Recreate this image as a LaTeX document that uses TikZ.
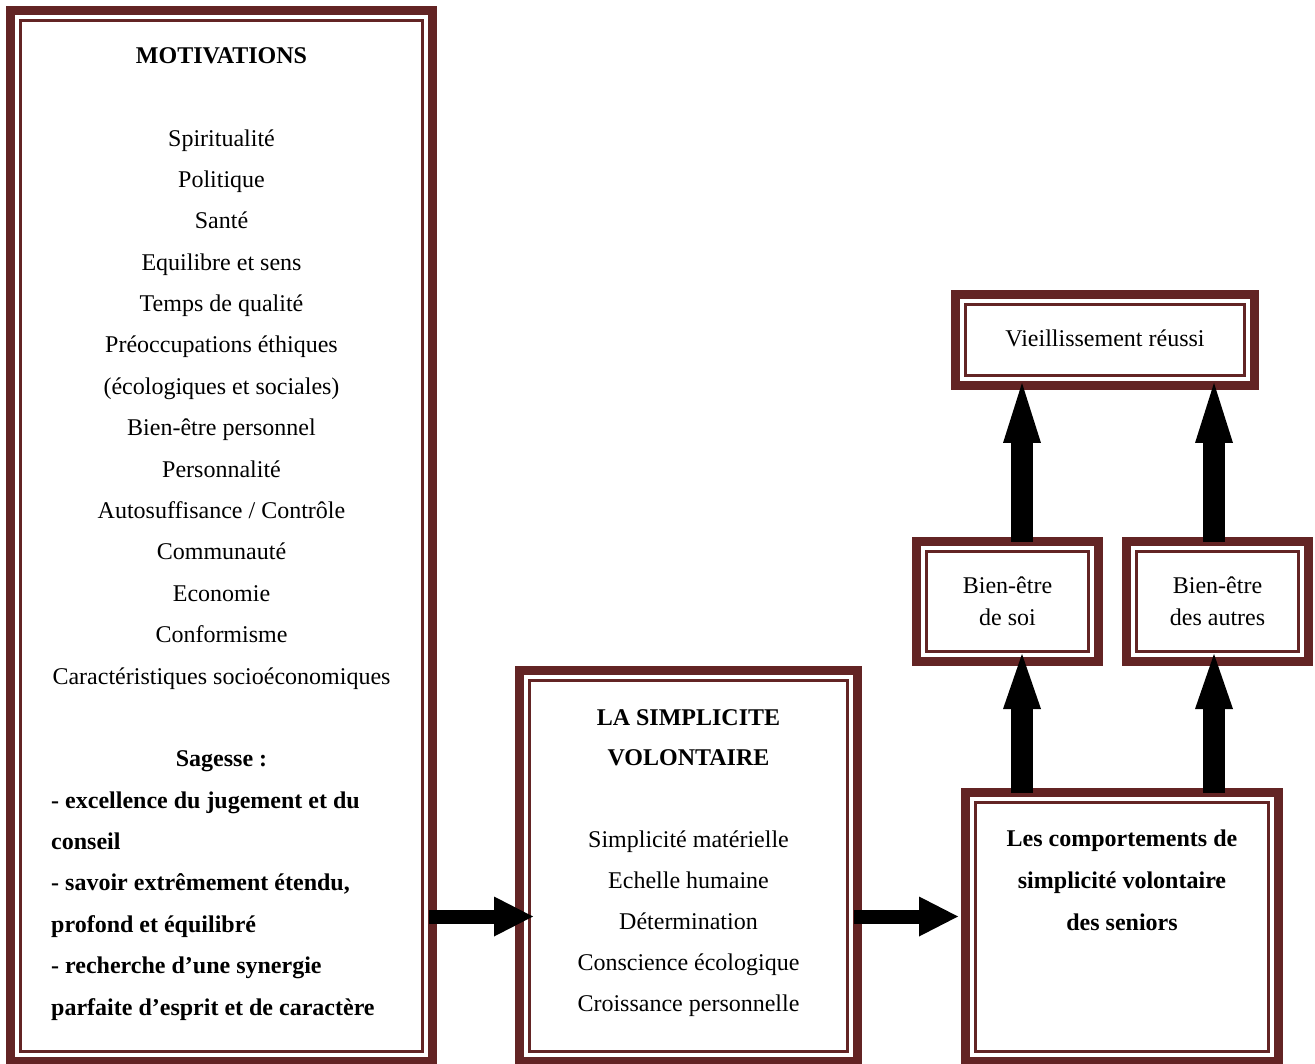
\documentclass[tikz,border=0pt]{standalone}
\usepackage{fontspec}
\setmainfont{Liberation Serif}
\usetikzlibrary{arrows.meta,calc}
\definecolor{framecol}{RGB}{99,36,36}
\newcommand\dblbox[5]{%
  \node[outerbox,minimum width={#4-#2-9},minimum height={#5-#3-9}] (#1) at ({(#2+#4)/2},{(#3+#5)/2}) {};
  \draw[innerline] ($(#1.north west)+(10,10)$) rectangle ($(#1.south east)+(-10,-10)$);
}
\begin{document}
\begin{tikzpicture}[x=1pt,y=-1pt,
  outerbox/.style={draw=framecol,line width=9pt,rectangle,inner sep=0pt,outer sep=0pt,fill=white},
  innerline/.style={draw=framecol,line width=2.8pt},
  txt/.style={inner sep=0pt,anchor=base,font=\fontsize{24}{29}\selectfont},
  btxt/.style={inner sep=0pt,anchor=base,font=\fontsize{24}{29}\selectfont\bfseries},
  harrow/.style={draw=black,line width=14pt,-{Triangle[width=40pt,length=39pt,line width=0pt]}},
  varrow/.style={draw=black,line width=22pt,-{Triangle[width=38pt,length=#1,line width=0pt]}}]
\useasboundingbox (0,0) rectangle (1315,1064);
\clip (0,0) rectangle (1315,1064);
\fill[white] (0,0) rectangle (1315,1064);

% boxes
\dblbox{b1}{6}{6}{437}{1066}
\dblbox{b2}{515}{666}{862}{1066}
\dblbox{b3}{961}{788}{1283}{1066}
\dblbox{bs}{912}{537}{1103}{666}
\dblbox{ba}{1122}{537}{1313}{666}
\dblbox{bv}{951}{290}{1259}{390}

% box 1 text
\node[btxt] (mt) at (221.5,63.3) {MOTIVATIONS};
\foreach \t [count=\i from 2] in {Spiritualité,Politique,Santé,Equilibre et sens,Temps de qualité,Préoccupations éthiques,(écologiques et sociales),Bien-être personnel,Personnalité,Autosuffisance / Contrôle,Communauté,Economie,Conformisme,Caractéristiques socioéconomiques}
  \node[txt] (m\i) at (221.5,{63.3+\i*41.38}) {\t};
\node[btxt] (sg) at (221.5,{63.3+17*41.38}) {Sagesse :};
\foreach \t [count=\i from 18] in {- excellence du jugement et du,conseil,{- savoir extrêmement étendu,},profond et équilibré,- recherche d’une synergie,parfaite d’esprit et de caractère}
  \node[btxt,anchor=base west] (s\i) at (51,{63.3+\i*41.38}) {\t};

% box 2 text
\node[btxt] (t1) at (688.5,725) {LA SIMPLICITE};
\node[btxt] (t2) at (688.5,765.8) {VOLONTAIRE};
\foreach \t [count=\i from 0] in {Simplicité matérielle,Echelle humaine,Détermination,Conscience écologique,Croissance personnelle}
  \node[txt] (p\i) at (688.5,{847+\i*41}) {\t};

% box 3 text
\node[btxt] (c1t) at (1122,846) {Les comportements de};
\node[btxt] (c2t) at (1122,888) {simplicité volontaire};
\node[btxt] (c3t) at (1122,930) {des seniors};

% small boxes text
\node[txt] (bs1) at (1007.5,593) {Bien-être};
\node[txt] (bs2) at (1007.5,625) {de soi};
\node[txt] (ba1) at (1217.5,593) {Bien-être};
\node[txt] (ba2) at (1217.5,625) {des autres};
\node[txt] (bv1) at (1105,347) {Vieillissement réussi};

% arrows
\coordinate (ay) at (0,916.5);
\coordinate (cx1) at (1022,0);
\coordinate (cx2) at (1214,0);
\draw[harrow] ($(b1.east |- ay)+(-3.5,0)$) -- ($(b2.west |- ay)+(13.5,0)$);
\draw[harrow] ($(b2.east |- ay)+(-3.5,0)$) -- ($(b3.west |- ay)+(-7.5,0)$);
\draw[varrow=55pt] (cx1 |- b3.north) -- ($(cx1 |- bs.south)+(0,-7.5)$);
\draw[varrow=55pt] (cx2 |- b3.north) -- ($(cx2 |- ba.south)+(0,-7.5)$);
\draw[varrow=60pt] (cx1 |- bs.north) -- ($(cx1 |- bv.south)+(0,-2.5)$);
\draw[varrow=60pt] (cx2 |- ba.north) -- ($(cx2 |- bv.south)+(0,-2.5)$);
\end{tikzpicture}
\end{document}
